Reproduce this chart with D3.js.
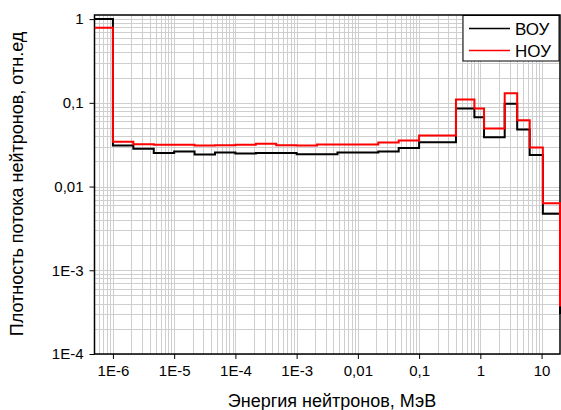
<!DOCTYPE html>
<html><head><meta charset="utf-8">
<script src="https://cdn.jsdelivr.net/npm/d3@7"></script>
<style>body{margin:0;background:#fff}svg{display:block}text{font-family:"Liberation Sans",Arial,sans-serif}</style>
</head><body>
<script>
// Bin edges (MeV)
const edges = [5e-7, 1e-6, 2.154e-6, 4.642e-6, 1e-5, 2.154e-5, 4.642e-5, 1e-4, 2.154e-4, 4.642e-4,
  1e-3, 2.154e-3, 4.642e-3, 0.01, 0.02154, 0.04642, 0.1, 0.4, 0.8, 1.15, 2.5, 4, 6.4, 10.5, 20];
// Flux density per bin (relative units)
const vouValues = [1.0, 0.0309, 0.0282, 0.0251, 0.0262, 0.0241, 0.0255, 0.0248, 0.0252, 0.0251, 0.0244, 0.0244,
  0.0255, 0.0255, 0.0262, 0.0288, 0.0339, 0.0855, 0.0675, 0.0389, 0.0973, 0.048, 0.0239, 0.00472];
const nouValues = [0.79, 0.0342, 0.0321, 0.0315, 0.0315, 0.0309, 0.0311, 0.0315, 0.0324, 0.0311, 0.0309, 0.0318,
  0.0318, 0.0318, 0.0336, 0.0355, 0.0407, 0.1095, 0.0855, 0.0493, 0.1305, 0.0621, 0.0292, 0.00634];
const vouEnd = 3.0e-4, nouEnd = 3.7e-4;
const seriesNames = ["ВОУ", "НОУ"];
const xTickValues = [1e-6, 1e-5, 1e-4, 1e-3, 0.01, 0.1, 1, 10];
const xTickLabels = ["1E-6", "1E-5", "1E-4", "1E-3", "0,01", "0,1", "1", "10"];
const yTickValues = [1, 0.1, 0.01, 1e-3, 1e-4];
const yTickLabels = ["1", "0,1", "0,01", "1E-3", "1E-4"];
const xTitle = "Энергия нейтронов, МэВ";
const yTitle = "Плотность потока нейтронов, отн.ед";

const W = 561, H = 410;
const L = 94.5, R = 560, T = 15, B = 354;
const svg = d3.select("body").append("svg").attr("width", W).attr("height", H);
const x = d3.scaleLog().domain([5e-7, 20]).range([L, R]);
const y = d3.scaleLog().domain([1e-4, 1.12]).range([B, T]);

// minor/major grid values
const xGrid = [], yGrid = [];
for (let e = -7; e <= 1; e++) for (let m = 1; m <= 9; m++) { const v = m * Math.pow(10, e); if (v > 5e-7 && v < 20) xGrid.push(v); }
for (let e = -4; e <= 0; e++) for (let m = 1; m <= 9; m++) { const v = m * Math.pow(10, e); if (v >= 1e-4 && v <= 1.12) yGrid.push(v); }

const g = svg.append("g");
g.selectAll(".gx").data(xGrid).enter().append("line")
  .attr("x1", d => Math.round(x(d)) + 0.5).attr("x2", d => Math.round(x(d)) + 0.5)
  .attr("y1", T).attr("y2", B).attr("stroke", "#cfcfcf").attr("stroke-width", 1);
g.selectAll(".gy").data(yGrid).enter().append("line")
  .attr("y1", d => Math.round(y(d)) + 0.5).attr("y2", d => Math.round(y(d)) + 0.5)
  .attr("x1", L).attr("x2", R).attr("stroke", "#cfcfcf").attr("stroke-width", 1);

// axes
const xAxis = svg.append("g").attr("transform", `translate(0,${B})`);
xAxis.call(d3.axisBottom(x).tickValues(xGrid).tickSizeInner(3).tickSizeOuter(0).tickFormat(""));
xAxis.call(d3.axisBottom(x).tickValues(xTickValues).tickSize(5).tickSizeOuter(0).tickFormat((d, i) => xTickLabels[i]));
xAxis.selectAll("path.domain").remove();
xAxis.selectAll("line").attr("stroke", "#000").attr("stroke-width", 1);
xAxis.selectAll("text").attr("font-size", 15).attr("fill", "#000").attr("dy", "0.95em");

const yAxis = svg.append("g").attr("transform", `translate(${L},0)`);
yAxis.call(d3.axisLeft(y).tickValues(yGrid).tickSizeInner(3).tickSizeOuter(0).tickFormat(""));
yAxis.call(d3.axisLeft(y).tickValues(yTickValues).tickSize(5).tickSizeOuter(0).tickFormat((d, i) => yTickLabels[i]));
yAxis.selectAll("path.domain").remove();
yAxis.selectAll("line").attr("stroke", "#000").attr("stroke-width", 1);
yAxis.selectAll("text").attr("font-size", 15).attr("fill", "#000").attr("dx", "-0.2em");

// frame
svg.append("rect").attr("x", L).attr("y", T).attr("width", R - L).attr("height", B - T)
  .attr("fill", "none").attr("stroke", "#000").attr("stroke-width", 1.5);

// series
svg.append("clipPath").attr("id", "clip").append("rect").attr("x", L).attr("y", T).attr("width", R - L + 2).attr("height", B - T);
const line = d3.line().x(d => x(d[0])).y(d => y(d[1])).curve(d3.curveStepAfter);
const ptsV = edges.map((e, i) => [e, i < vouValues.length ? vouValues[i] : vouEnd]);
const ptsN = edges.map((e, i) => [e, i < nouValues.length ? nouValues[i] : nouEnd]);
const sg = svg.append("g").attr("clip-path", "url(#clip)");
sg.append("path").attr("d", line(ptsV)).attr("fill", "none").attr("stroke", "#000").attr("stroke-width", 2);
sg.append("path").attr("d", line(ptsN)).attr("fill", "none").attr("stroke", "#ff0000").attr("stroke-width", 2);

// legend
const lg = svg.append("g");
lg.append("rect").attr("x", 463).attr("y", 15.5).attr("width", 96).attr("height", 45.5)
  .attr("fill", "#fff").attr("stroke", "#000").attr("stroke-width", 1);
const colors = ["#000", "#ff0000"];
seriesNames.forEach((n, i) => {
  const yy = 28.5 + i * 22;
  lg.append("line").attr("x1", 469).attr("x2", 510).attr("y1", yy).attr("y2", yy).attr("stroke", colors[i]).attr("stroke-width", 1.6);
  lg.append("text").attr("x", 515).attr("y", yy + 6.5).attr("font-size", 17).text(n);
});

// titles
svg.append("text").attr("x", 332).attr("y", 407).attr("text-anchor", "middle").attr("font-size", 18).text(xTitle);
svg.append("text").attr("transform", `translate(23,184) rotate(-90)`).attr("text-anchor", "middle").attr("font-size", 18).text(yTitle);
</script>
</body></html>
